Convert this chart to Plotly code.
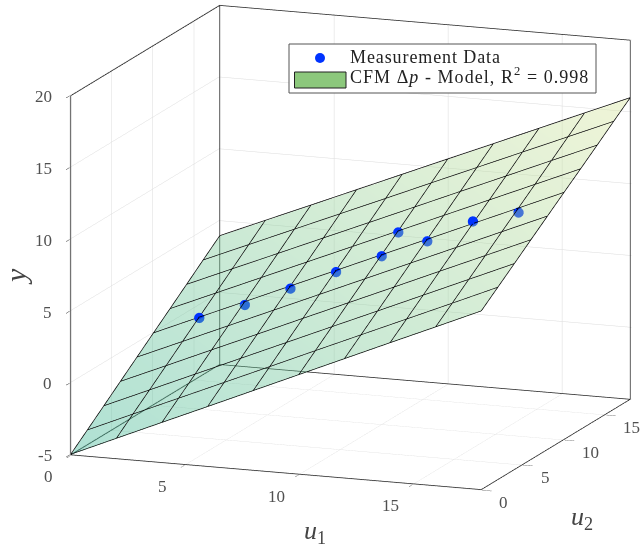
import math
import plotly.graph_objects as go

u1_grid = [0, 2, 4, 6, 8, 10, 12, 14, 16, 18]
u2_grid = [0, 2, 4, 6, 8, 10, 12, 14, 16, 18]
y_model = [
    [-5.00, -3.62, -2.24, -0.87, 0.51, 1.89, 3.27, 4.65, 6.02, 7.40],
    [-4.01, -2.63, -1.26, 0.11, 1.48, 2.86, 4.23, 5.60, 6.97, 8.35],
    [-3.02, -1.65, -0.28, 1.09, 2.46, 3.83, 5.19, 6.56, 7.93, 9.30],
    [-2.02, -0.66, 0.71, 2.07, 3.44, 4.80, 6.16, 7.53, 8.89, 10.26],
    [-1.03, 0.33, 1.69, 3.05, 4.41, 5.77, 7.13, 8.49, 9.85, 11.21],
    [-0.04, 1.32, 2.67, 4.03, 5.38, 6.74, 8.09, 9.45, 10.80, 12.16],
    [0.95, 2.30, 3.65, 5.00, 6.35, 7.70, 9.05, 10.40, 11.75, 13.10],
    [1.94, 3.29, 4.63, 5.98, 7.32, 8.67, 10.02, 11.36, 12.71, 14.05],
    [2.94, 4.28, 5.62, 6.96, 8.30, 9.65, 10.99, 12.33, 13.67, 15.01],
    [3.93, 5.27, 6.60, 7.94, 9.28, 10.62, 11.95, 13.29, 14.63, 15.96],
]
u1_data = [2, 4, 6, 8, 10, 10, 12, 14, 16]
u2_data = [10, 10, 10, 10, 10, 12, 10, 10, 10]
y_data = [1.32, 2.49, 3.90, 5.32, 6.69, 7.65, 8.00, 9.65, 10.54]

u1_range = [0, 18]
u2_range = [0, 18]
y_range = [-5, 20]
u1_ticks = [0, 5, 10, 15]
u2_ticks = [0, 5, 10, 15]
y_ticks = [-5, 0, 5, 10, 15, 20]
y_ticklabels = ["-5", "0", "5", "10", "15", "20"]

FONT = "Liberation Serif"
AX = "#262626"
TXT = "#505050"
PAD = 0.04   # tiny range padding so lines on the box edge are not clipped
LIFT = 0.04  # grid lines sit just in front of the translucent surface

fig = go.Figure()

x0, x1 = u1_range
y0, y1 = u2_range
z0, z1 = y_range
bx, by, bz = [], [], []
def seg(xs, ys, zs):
    bx.extend(list(xs) + [None]); by.extend(list(ys) + [None]); bz.extend(list(zs) + [None])
seg([x0, x1, x1, x0, x0], [y0, y0, y1, y1, y0], [z0, z0, z0, z0, z0])
seg([x0, x0], [y0, y0], [z0, z1])
seg([x0, x0], [y1, y1], [z0, z1])
seg([x1, x1], [y1, y1], [z0, z1])
seg([x0, x0], [y0, y1], [z1, z1])
seg([x0, x1], [y1, y1], [z1, z1])
fig.add_trace(go.Scatter3d(x=bx, y=by, z=bz, mode="lines", line=dict(color=AX, width=1.5),
                           hoverinfo="skip", showlegend=False))

fig.add_trace(go.Surface(
    x=u1_grid, y=u2_grid, z=y_model, surfacecolor=y_model, cmin=-5, cmax=16,
    colorscale=[[0, "rgb(55,180,147)"], [1, "rgb(217,230,155)"]],
    showscale=False, opacity=0.4,
    lighting=dict(ambient=1, diffuse=0, specular=0, roughness=1, fresnel=0),
    hoverinfo="skip"))

lx, ly, lz = [], [], []
for j, v_ in enumerate(u2_grid):
    for i, u in enumerate(u1_grid):
        lx.append(u); ly.append(v_); lz.append(y_model[j][i] + LIFT)
    lx.append(None); ly.append(None); lz.append(None)
for i, u in enumerate(u1_grid):
    for j, v_ in enumerate(u2_grid):
        lx.append(u); ly.append(v_); lz.append(y_model[j][i] + LIFT)
    lx.append(None); ly.append(None); lz.append(None)
fig.add_trace(go.Scatter3d(x=lx, y=ly, z=lz, mode="lines", line=dict(color="black", width=1.5),
                           hoverinfo="skip", showlegend=False))

fig.add_trace(go.Scatter3d(x=u1_data, y=u2_data, z=y_data, mode="markers",
                           marker=dict(size=6, color="#0033ff", line=dict(width=0)),
                           name="Measurement Data", showlegend=False))

theta = math.radians(20.5)
phi = math.radians(13.1)
R = 2.0
e = (math.cos(phi) * math.sin(theta), -math.cos(phi) * math.cos(theta), math.sin(phi))
r = (math.cos(theta), math.sin(theta), 0)
v = (-math.sin(phi) * math.sin(theta), math.sin(phi) * math.cos(theta), math.cos(phi))
S = 274.0
SHIFT_RIGHT, SHIFT_UP = 30.5, 26.5
c = [-(SHIFT_RIGHT * r[k] + SHIFT_UP * v[k]) / S for k in range(3)]
eye = [c[k] + R * e[k] for k in range(3)]

def axis(rng, tv):
    return dict(range=[rng[0] - PAD, rng[1] + PAD], tickvals=tv, showticklabels=False,
                showbackground=False, showspikes=False, zeroline=False,
                gridcolor="#dcdcdc", gridwidth=1, showline=False,
                ticks="outside", ticklen=10, tickcolor=AX, tickwidth=1,
                title=dict(text=""))

tf = dict(family=FONT, size=17, color=TXT)
scene_ann = []
for t in u1_ticks:
    scene_ann.append(dict(x=t, y=y0, z=z0, text=str(t), showarrow=False, font=tf,
                          xanchor="center", yanchor="middle", xshift=-22, yshift=-22))
for t in u2_ticks:
    scene_ann.append(dict(x=x1, y=t, z=z0, text=str(t), showarrow=False, font=tf,
                          xanchor="left", yanchor="middle", xshift=16, yshift=-13))
for t, s in zip(y_ticks, y_ticklabels):
    scene_ann.append(dict(x=x0, y=y0, z=t, text=s, showarrow=False, font=tf,
                          xanchor="right", yanchor="middle", xshift=-17, yshift=-1))

W, H = 640, 548
def px(x): return x / W
def py(y): return 1 - y / H
lf = dict(family=FONT, size=18, color="#222222")
tif = dict(family=FONT, size=26, color="#444444")
tiy = dict(family=FONT, size=30, color="#444444")
SP = '<span style="letter-spacing:%spx">%s</span>'
ann = [
    dict(x=px(348), y=py(57), text=SP % (0.9, "Measurement Data"), font=lf),
    dict(x=px(348), y=py(76), text=SP % (1.05, "CFM Δ<i>p</i> - Model, R<sup>2</sup> = 0.998"), font=lf),
]
for a in ann:
    a.update(xref="paper", yref="paper", xanchor="left", yanchor="middle", showarrow=False)
for a in [
    dict(x=px(315), y=py(532), text="<i>u</i><sub>1</sub>", font=tif),
    dict(x=px(582), y=py(518), text="<i>u</i><sub>2</sub>", font=tif),
    dict(x=px(15), y=py(277), text="<i>y</i>", font=tiy, textangle=-90),
]:
    a.update(xref="paper", yref="paper", xanchor="center", yanchor="middle", showarrow=False)
    ann.append(a)
shapes = [
    dict(type="rect", xref="paper", yref="paper", x0=px(289), x1=px(596), y0=py(44), y1=py(93),
         fillcolor="white", line=dict(color="#555555", width=1)),
    dict(type="rect", xref="paper", yref="paper", x0=px(294.5), x1=px(346), y0=py(72), y1=py(88),
         fillcolor="#8cc87c", line=dict(color="#222222", width=1)),
    dict(type="circle", xref="paper", yref="paper", x0=px(315), x1=px(325), y0=py(53), y1=py(63),
         fillcolor="#0033ff", line=dict(width=0)),
]

K = 1.35
fig.update_layout(
    width=W, height=H, margin=dict(l=0, r=0, t=0, b=0), paper_bgcolor="white",
    showlegend=False, shapes=shapes, annotations=ann,
    scene=dict(
        domain=dict(x=[0, 1], y=[0, 1]),
        xaxis=axis(u1_range, u1_ticks), yaxis=axis(u2_range, u2_ticks),
        zaxis=axis(y_range, y_ticks),
        aspectmode="manual", aspectratio=dict(x=1.19 * K, y=1.155 * K, z=1.0 * K),
        annotations=scene_ann,
        camera=dict(projection=dict(type="orthographic"),
                    up=dict(x=0, y=0, z=1),
                    center=dict(x=c[0], y=c[1], z=c[2]),
                    eye=dict(x=eye[0], y=eye[1], z=eye[2])),
    ),
)
fig.write_html("out.html", config={"displayModeBar": False},
               post_script="document.body.style.margin='0';")
